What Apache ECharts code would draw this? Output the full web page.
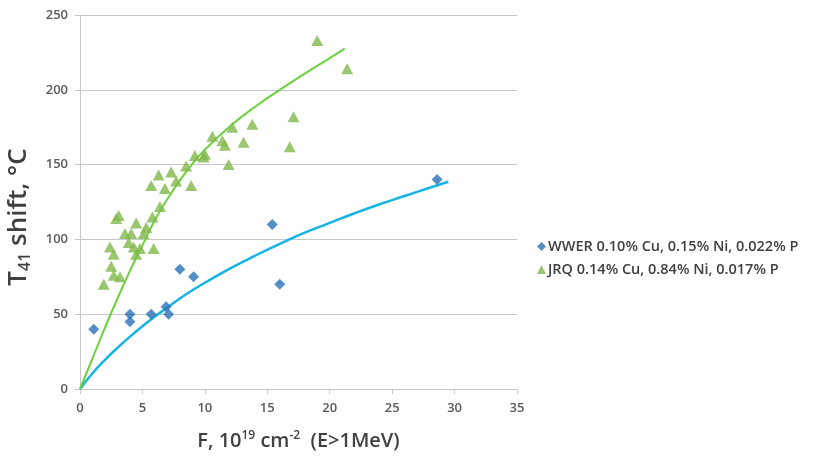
<!DOCTYPE html>
<html><head><meta charset="utf-8">
<script src="https://cdn.jsdelivr.net/npm/echarts@6/dist/echarts.min.js"></script>
<style>html,body{margin:0;padding:0;background:#fff}#c{width:813px;height:456px}</style>
</head><body><div id="c"></div>
<script>
// WWER measured points [F, shift]
var wwerPoints = [[1.1,40],[4.0,50],[4.0,45],[5.7,50],[6.9,55],[7.1,50],[8.0,80],[9.1,75],[15.4,110],[16.0,70],[28.6,140]];
// JRQ measured points
var jrqPoints = [[1.9,70],[2.4,95],[2.5,82],[2.7,90],[2.7,76],[2.9,114],[3.1,116],[3.2,75],[3.6,104],[3.9,98],[4.1,104],[4.3,95],[4.5,90],[4.5,111],[4.8,94],[5.1,104],[5.3,108],[5.8,115],[5.9,94],[6.4,122],[5.7,136],[6.3,143],[6.8,134],[7.3,145],[7.7,139],[8.5,149],[8.9,136],[9.2,156],[10.0,157],[9.9,155],[10.6,169],[11.4,166],[11.6,163],[11.9,150],[12.2,175],[13.1,165],[13.8,177],[16.8,162],[17.1,182],[19.0,233],[21.4,214]];
// trend lines
var wwerTrend = [[0,0],[1,10.5],[2,19.5],[3,27.5],[4,35],[5,42],[6,48.5],[7,54.5],[8,60.5],[9,66],[10,71],[12,80.5],[14,89],[16,97],[18,104.5],[20,111],[22,117.5],[24,123.5],[26,129],[28,134.5],[29.5,138.5]];
var jrqTrend = [[0,0],[1,20.5],[2,41],[3,60.5],[4,79],[5,96],[6,113],[7,127],[8,139.5],[9,150.5],[10,160],[12,175.5],[14,188.5],[16,200],[18,210.8],[20,221.2],[21.2,227.5]];
var xTicks = [0,5,10,15,20,25,30,35];
var yTicks = [0,50,100,150,200,250];
var legendNames = ['WWER 0.10% Cu, 0.15% Ni, 0.022% P','JRQ 0.14% Cu, 0.84% Ni, 0.017% P'];

var chart = echarts.init(document.getElementById('c'), null, {renderer:'canvas'});
var lblColor = '#595959';
var ff = '"Open Sans", Lato, sans-serif';
chart.setOption({
  animation:false,
  backgroundColor:'#fff',
  grid:{left:80,right:296,top:15,bottom:67,containLabel:false,outerBoundsMode:'none'},
  xAxis:{type:'value',min:xTicks[0],max:xTicks[xTicks.length-1],interval:5,
    axisLine:{show:true,lineStyle:{color:'#c8c8c8',width:1}},
    axisTick:{show:true,length:5,lineStyle:{color:'#c8c8c8'}},
    splitLine:{show:false},
    axisLabel:{color:lblColor,fontSize:13,fontFamily:ff,fontWeight:600,margin:13},
    name:'{b|F, 10}{sup|19}{b| cm}{sup|-2}{b|  (E>1MeV)}',nameLocation:'middle',nameGap:41,
    nameTextStyle:{rich:{b:{fontSize:20,fontWeight:600,color:'#404040',fontFamily:ff},sup:{fontSize:12,fontWeight:600,color:'#404040',fontFamily:ff,verticalAlign:'top',padding:[0,0,10,0]}}}
  },
  yAxis:{type:'value',min:yTicks[0],max:yTicks[yTicks.length-1],interval:50,
    axisLine:{show:true,lineStyle:{color:'#c8c8c8',width:1}},
    axisTick:{show:true,length:5,lineStyle:{color:'#c8c8c8'}},
    splitLine:{show:true,lineStyle:{color:'#c8c8c8',width:1}},
    axisLabel:{color:lblColor,fontSize:13,fontFamily:ff,fontWeight:600,margin:12},
    name:'{b|T}{sub|41}{b| shift, °C}',nameLocation:'middle',nameGap:47,nameRotate:90,
    nameTextStyle:{padding:[0,30,0,0],rich:{b:{fontSize:26,fontWeight:600,color:'#404040',fontFamily:ff},sub:{fontSize:16,fontWeight:600,color:'#404040',fontFamily:ff,verticalAlign:'bottom',padding:[13,0,0,0]}}}
  },
  legend:{orient:'vertical',left:532,top:234,itemGap:8,itemWidth:9,itemHeight:9,
    textStyle:{fontSize:14.5,fontWeight:600,color:'#404040',fontFamily:ff,padding:[0,0,0,-3]},
    data:[{name:legendNames[0],icon:'diamond'},{name:legendNames[1],icon:'triangle'}]},
  series:[
    {type:'line',name:'wwerTrend',data:wwerTrend,smooth:true,showSymbol:false,lineStyle:{color:'#14b4e6',width:2.5},itemStyle:{color:'#14b4e6'},z:2},
    {type:'line',name:'jrqTrend',data:jrqTrend,smooth:true,showSymbol:false,lineStyle:{color:'#6cd13c',width:2},itemStyle:{color:'#6cd13c'},z:2},
    {type:'scatter',name:legendNames[0],data:wwerPoints,symbol:'diamond',symbolSize:11,itemStyle:{color:'#2b71b8'},z:3},
    {type:'scatter',name:legendNames[1],data:jrqPoints,symbol:'triangle',symbolSize:[12,11],itemStyle:{color:'#80b84a'},z:3}
  ]
});
</script></body></html>
